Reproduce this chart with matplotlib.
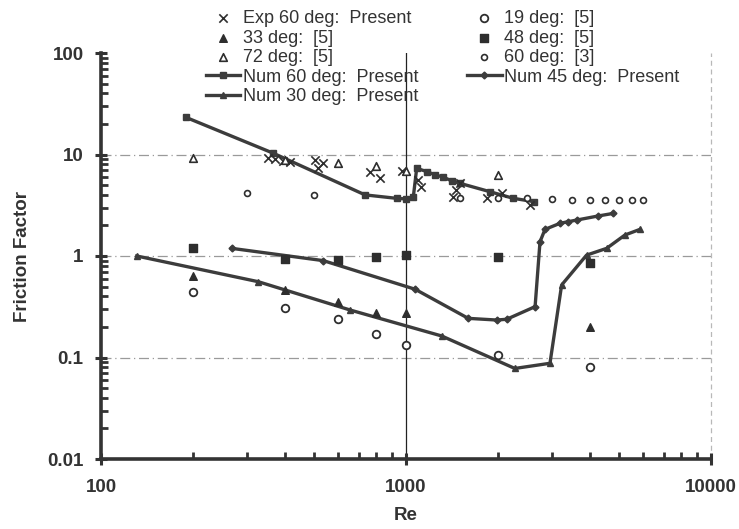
import matplotlib
matplotlib.use("Agg")
import matplotlib.pyplot as plt
from matplotlib.ticker import LogLocator, NullFormatter, FixedLocator, FixedFormatter

plt.rcParams['font.family'] = ['Liberation Sans', 'DejaVu Sans']

# ---------------- data ----------------
num60_re = [190, 367, 734, 931, 1000, 1057, 1084, 1169, 1245, 1322, 1412, 1503, 1885, 2248, 2630]
num60_f = [23.2, 10.3, 4.0, 3.7, 3.65, 3.84, 7.3, 6.8, 6.3, 6.0, 5.5, 5.2, 4.3, 3.7, 3.43]

num45_re = [268, 536, 1072, 1600, 1981, 2138, 2650, 2750, 2856, 3200, 3407, 3627, 4269, 4785]
num45_f = [1.19, 0.90, 0.47, 0.243, 0.234, 0.238, 0.317, 1.38, 1.83, 2.10, 2.18, 2.26, 2.48, 2.63]

num30_re = [131, 328, 655, 1309, 2274, 2965, 3238, 3908, 4550, 5222, 5850]
num30_f = [1.0, 0.558, 0.294, 0.163, 0.078, 0.0877, 0.518, 1.02, 1.19, 1.61, 1.83]

exp60_re = [354, 372, 394, 417, 503, 516, 536, 762, 822, 968, 1097, 1124, 1422, 1459, 1503, 1841, 2062, 2553]
exp60_f = [9.2, 9.0, 8.7, 8.5, 8.8, 7.3, 8.3, 6.8, 5.9, 6.9, 5.6, 4.75, 3.85, 4.45, 5.2, 3.7, 4.2, 3.2]

d33_re = [200, 400, 600, 800, 1000, 4000]
d33_f = [0.635, 0.46, 0.355, 0.272, 0.277, 0.20]

d72_re = [200, 400, 600, 800, 1000, 2000]
d72_f = [9.2, 8.8, 8.3, 7.7, 6.9, 6.3]

d19_re = [200, 400, 600, 800, 1000, 2000, 4000]
d19_f = [0.445, 0.305, 0.238, 0.169, 0.133, 0.106, 0.081]

d48_re = [200, 400, 600, 800, 1000, 2000, 4000]
d48_f = [1.19, 0.93, 0.91, 0.97, 1.02, 0.98, 0.85]

d60_3_re = [300, 500, 1500, 2000, 2500, 3000, 3500, 4000, 4500, 5000, 5500, 6000]
d60_3_f = [4.15, 4.0, 3.7, 3.7, 3.7, 3.62, 3.6, 3.58, 3.58, 3.58, 3.58, 3.56]

x_ticks = [100, 1000, 10000]
x_tick_labels = ['100', '1000', '10000']
y_ticks = [0.01, 0.1, 1, 10, 100]
y_tick_labels = ['0.01', '0.1', '1', '10', '100']

# ---------------- figure ----------------
W, H = 739, 529
fig = plt.figure(figsize=(W / 100, H / 100), dpi=100)
ax = fig.add_axes([101 / W, (H - 459) / H, (711 - 101) / W, (459 - 53) / H])

ink = '#3c3c3c'
ax.set_xscale('log')
ax.set_yscale('log')
ax.set_xlim(100, 10000)
ax.set_ylim(0.01, 100)

# grid lines
for yv in [0.1, 1, 10]:
    ax.axhline(yv, color='#9a9a9a', lw=0.9, ls=(0, (8, 3, 1, 3)), zorder=1)
ax.axvline(1000, color='#222222', lw=0.9, zorder=1)
ax.axvline(10000, color='#b8b8b8', lw=0.9, ls=(0, (4, 3)), zorder=1, clip_on=False)

lw = 2.4
h_num60, = ax.plot(num60_re, num60_f, color=ink, lw=lw, marker='s', ms=4.5, zorder=3,
                   label='Num 60 deg:  Present')
h_num45, = ax.plot(num45_re, num45_f, color=ink, lw=lw, marker='D', ms=3.5, zorder=3,
                   label='Num 45 deg:  Present')
h_num30, = ax.plot(num30_re, num30_f, color=ink, lw=lw, marker='^', ms=4.5, zorder=3,
                   label='Num 30 deg:  Present')

mk = '#2e2e2e'
h_exp = ax.scatter(exp60_re, exp60_f, marker='x', s=36, color=mk, linewidths=1.2, zorder=4,
                   label='Exp 60 deg:  Present')
h_33 = ax.scatter(d33_re, d33_f, marker='^', s=30, color=mk, zorder=4, label='33 deg:  [5]')
h_72 = ax.scatter(d72_re, d72_f, marker='^', s=30, facecolors='white', edgecolors=mk,
                  linewidths=1.2, zorder=4, label='72 deg:  [5]')
h_19 = ax.scatter(d19_re, d19_f, marker='o', s=30, facecolors='white', edgecolors=mk,
                  linewidths=1.3, zorder=4, label='19 deg:  [5]')
h_48 = ax.scatter(d48_re, d48_f, marker='s', s=30, color=mk, zorder=4, label='48 deg:  [5]')
h_603 = ax.scatter(d60_3_re, d60_3_f, marker='o', s=18, facecolors='white', edgecolors=mk,
                   linewidths=1.2, zorder=4, label='60 deg:  [3]')

# spines
for s in ['top', 'right']:
    ax.spines[s].set_visible(False)
for s in ['left', 'bottom']:
    ax.spines[s].set_linewidth(2.6)
    ax.spines[s].set_color('#333333')

ax.xaxis.set_major_locator(FixedLocator(x_ticks))
ax.xaxis.set_major_formatter(FixedFormatter(x_tick_labels))
ax.yaxis.set_major_locator(FixedLocator(y_ticks))
ax.yaxis.set_major_formatter(FixedFormatter(y_tick_labels))
ax.xaxis.set_minor_locator(LogLocator(base=10, subs=range(2, 10)))
ax.yaxis.set_minor_locator(LogLocator(base=10, subs=range(2, 10)))
ax.xaxis.set_minor_formatter(NullFormatter())
ax.yaxis.set_minor_formatter(NullFormatter())

ax.tick_params(axis='both', which='major', direction='inout', length=9, width=2.2,
               color='#333333', labelsize=13.5)
ax.tick_params(axis='both', which='minor', direction='in', length=5, width=2.0, color='#333333')
ax.tick_params(axis='x', which='major', pad=10)
ax.tick_params(axis='y', which='major', pad=8)
for lab in ax.get_xticklabels() + ax.get_yticklabels():
    lab.set_fontweight('bold')
    lab.set_color('#333333')

ax.set_xlabel('Re', fontsize=13.5, fontweight='bold', color='#333333', labelpad=8)
ax.set_ylabel('Friction Factor', fontsize=13.5, fontweight='bold', color='#333333', labelpad=12)

handles = [h_exp, h_33, h_72, h_num60, h_num30, h_19, h_48, h_603, h_num45]
leg = fig.legend(handles=handles, loc='upper left', bbox_to_anchor=(206 / W, 1 - 10 / H),
                 ncol=2, frameon=False, fontsize=13, handlelength=1.9, handletextpad=0.15,
                 labelspacing=0.14, columnspacing=2.7, borderpad=0, borderaxespad=0)
for t in leg.get_texts():
    t.set_color('#333333')

fig.savefig('out.png', dpi=100)
